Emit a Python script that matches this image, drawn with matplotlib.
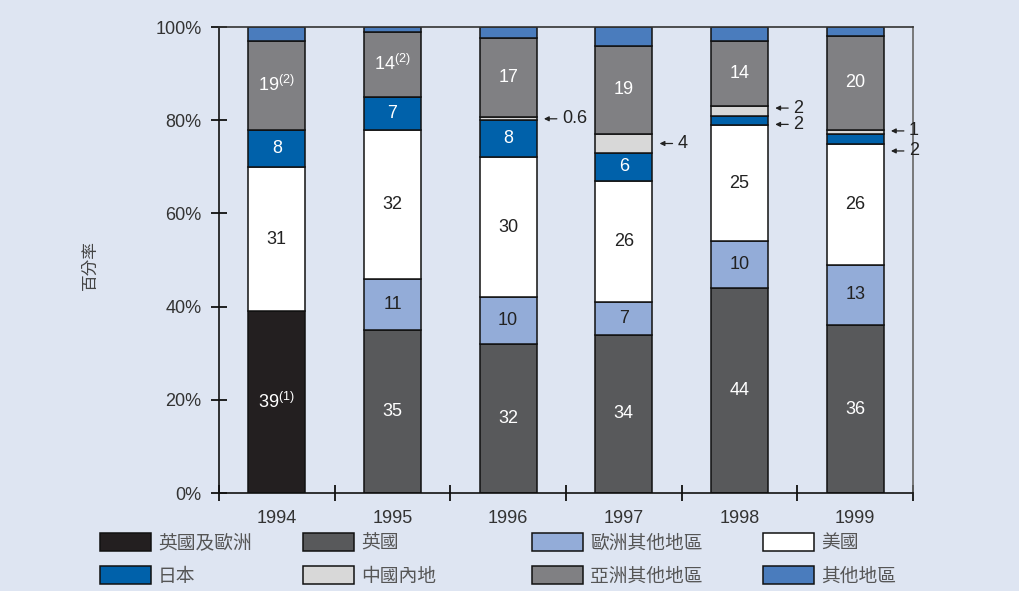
import numpy as np
import matplotlib.pyplot as plt

plt.rcParams['font.family'] = ['Liberation Sans', 'Noto Sans CJK TC', 'DejaVu Sans']
plt.rcParams['mathtext.default'] = 'regular'

years = ["1994", "1995", "1996", "1997", "1998", "1999"]

# share (%) by region, bottom to top of each bar
uk_europe = [39, 0, 0, 0, 0, 0]
uk = [0, 35, 32, 34, 44, 36]
other_europe = [0, 11, 10, 7, 10, 13]
usa = [31, 32, 30, 26, 25, 26]
japan = [8, 7, 8, 6, 2, 2]
mainland = [0, 0, 0.6, 4, 2, 1]
other_asia = [19, 14, 17, 19, 14, 20]
others = [3, 1, 2.4, 4, 3, 2]

series = [uk_europe, uk, other_europe, usa, japan, mainland, other_asia, others]
names = ["英國及歐洲", "英國", "歐洲其他地區", "美國", "日本", "中國內地", "亞洲其他地區", "其他地區"]
colors = ["#231f20", "#58595b", "#93acd8", "#ffffff", "#0061aa", "#d8d8d8", "#808083", "#4a7cbd"]

# text shown inside segments
inside = {
    0: ["39$^{(1)}$", "", "", "", "", ""],
    1: ["", "35", "32", "34", "44", "36"],
    2: ["", "11", "10", "7", "10", "13"],
    3: ["31", "32", "30", "26", "25", "26"],
    4: ["8", "7", "8", "6", "", ""],
    6: ["19$^{(2)}$", "14$^{(2)}$", "17", "19", "14", "20"],
}
txtcol = ["white", "white", "#222222", "#222222", "white", "#222222", "white", "white"]
# small segments labelled with an arrow on the right
arrows = {
    4: ["", "", "", "", "2", "2"],
    5: ["", "", "0.6", "4", "2", "1"],
}
# vertical nudge of the arrow labels so they don't collide
nudge = {(4, 4): -0.9, (5, 4): 0.6, (4, 5): -2.6, (5, 5): 0.2}

bg = "#dee5f2"
fig = plt.figure(figsize=(10.19, 5.91), dpi=100, facecolor=bg)
ax = fig.add_axes([219/1019, 1-493/591, (913-219)/1019, (493-27)/591])
ax.set_facecolor(bg)

x = np.arange(len(years))
w = 0.49
bottom = np.zeros(len(years))
handles = []
for i, vals in enumerate(series):
    vals = np.array(vals, dtype=float)
    b = ax.bar(x, vals, w, bottom=bottom, color=colors[i], edgecolor="#111111", lw=1.1, zorder=2)
    handles.append(b)
    for j in range(len(years)):
        if vals[j] == 0:
            continue
        mid = bottom[j] + vals[j] / 2
        if i in inside and inside[i][j]:
            ax.text(x[j], mid, inside[i][j], ha="center", va="center",
                    fontsize=13, color=txtcol[i], zorder=3)
        if i in arrows and arrows[i][j]:
            ym = mid + nudge.get((i, j), 0)
            ax.annotate("", xy=(x[j] + w/2 + 0.04, ym), xytext=(x[j] + w/2 + 0.2, ym),
                        arrowprops=dict(arrowstyle="-|>", color="#222222", lw=0.9,
                                        mutation_scale=7), zorder=3)
            ax.text(x[j] + w/2 + 0.22, ym, arrows[i][j], ha="left", va="center",
                    fontsize=13, color="#222222")
    bottom += vals

ax.set_xlim(-0.5, 5.5)
ax.set_ylim(0, 100)
ax.set_yticks(np.arange(0, 101, 20))
ax.set_yticklabels([f"{v}%" for v in range(0, 101, 20)], fontsize=13, color="#333333")
ax.set_xticks(np.arange(-0.5, 6, 1))
ax.set_xticklabels([])
ax.tick_params(axis="both", direction="inout", length=11, width=1.3, color="#111111")
ax.tick_params(axis="y", pad=7)
for i, yr in enumerate(years):
    ax.text(x[i], -3.6, yr, ha="center", va="top", fontsize=13, color="#333333")
ax.spines["left"].set_color("#111111")
ax.spines["bottom"].set_color("#111111")
ax.spines["top"].set_color("#333333")
ax.spines["right"].set_color("#666666")
for s in ax.spines.values():
    s.set_linewidth(1.2)

fig.text(90/1019, 1-265/591, "百分率", rotation=90, ha="center", va="center",
         fontsize=12, color="#444444")

# legend, four columns of two entries
col_x = [100, 303, 532, 763]
order = [[0, 4], [1, 5], [2, 6], [3, 7]]
for cx, idx in zip(col_x, order):
    leg = fig.legend([handles[k] for k in idx], [names[k] for k in idx],
                     loc="upper left", bbox_to_anchor=(cx/1019, 1-533/591),
                     frameon=False, fontsize=13.5, handlelength=2.7, handleheight=1.1,
                     handletextpad=0.4, labelspacing=0.75, borderpad=0, borderaxespad=0)
    for t in leg.get_texts():
        t.set_color("#555555")

fig.savefig("out.png", dpi=100, facecolor=bg)
